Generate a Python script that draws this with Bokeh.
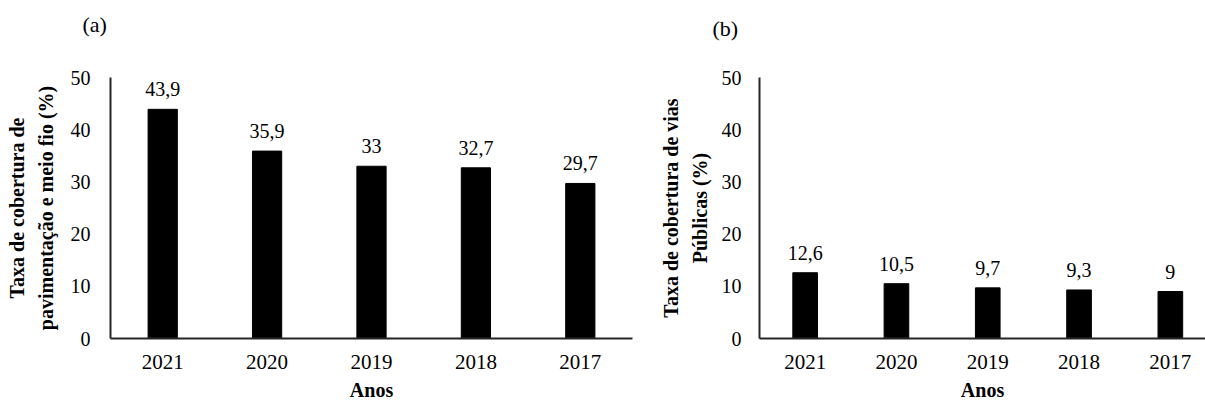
from bokeh.plotting import figure
from bokeh.layouts import row
from bokeh.models import ColumnDataSource, FixedTicker
from bokeh.embed import file_html
from bokeh.resources import INLINE
from bokeh.core.properties import value

# Coverage rates by year
years = ["2021", "2020", "2019", "2018", "2017"]
pavimentacao = [43.9, 35.9, 33.0, 32.7, 29.7]
vias_publicas = [12.6, 10.5, 9.7, 9.3, 9.0]
y_ticks = [0, 10, 20, 30, 40, 50]

FONT = "Liberation Serif"
AXIS_COLOR = "#262626"


def fmt(v):
    # Portuguese decimal comma
    return f"{v:g}".replace(".", ",")


def make_panel(values, ylabel, tag, tag_offset, tag_standoff, tag_line_height,
               width, b_left, b_right, b_top, b_bottom, x_end, bar_width,
               label_standoff, tick_standoff):
    idx = list(range(len(years)))
    src = ColumnDataSource(dict(x=idx, top=values,
                                label=[fmt(v) for v in values]))
    p = figure(width=width, height=403, x_range=(-0.5, x_end), y_range=(0, 50),
               output_backend="svg", toolbar_location=None,
               min_border_left=b_left, min_border_right=b_right,
               min_border_top=b_top, min_border_bottom=b_bottom)
    p.vbar(x="x", top="top", width=bar_width, source=src,
           fill_color="black", line_color="black")
    p.text(x="x", y="top", text="label", source=src,
           text_font=value(FONT), text_font_size="20px",
           text_align="center", text_baseline="alphabetic",
           y_offset=-20, text_color="black")

    # panel tag; the blank second line lifts it well above the plot frame
    p.title.text = tag + "\n "
    p.title.align = "left"
    p.title.offset = tag_offset
    p.title.standoff = tag_standoff
    p.title.text_line_height = tag_line_height
    p.title.text_font = FONT
    p.title.text_font_size = "22px"
    p.title.text_font_style = "normal"
    p.title.text_color = "black"

    p.xgrid.visible = False
    p.ygrid.visible = False
    p.outline_line_color = None
    p.background_fill_color = "white"
    p.border_fill_color = "white"

    for ax in (p.xaxis[0], p.yaxis[0]):
        ax.axis_line_color = AXIS_COLOR
        ax.axis_line_width = 2
        ax.major_tick_out = 0
        ax.major_tick_in = 0
        ax.minor_tick_out = 0
        ax.minor_tick_in = 0
        ax.major_label_text_font = FONT
        ax.major_label_text_font_size = "20px"
        ax.major_label_text_color = "black"
        ax.axis_label_text_font = FONT
        ax.axis_label_text_font_size = "20px"
        ax.axis_label_text_font_style = "bold"
        ax.axis_label_text_color = "black"

    xa = p.xaxis[0]
    xa.ticker = FixedTicker(ticks=idx)
    xa.major_label_overrides = {i: y for i, y in enumerate(years)}
    xa.major_label_text_font_size = "21px"
    xa.major_label_standoff = 16
    xa.axis_label = "Anos"
    xa.axis_label_standoff = 7

    ya = p.yaxis[0]
    ya.ticker = FixedTicker(ticks=y_ticks)
    ya.major_label_standoff = tick_standoff
    ya.axis_label = ylabel
    ya.axis_label_standoff = label_standoff
    ya.axis_label_text_line_height = 1.3
    return p


left = make_panel(pavimentacao,
                  "Taxa de cobertura de\npavimentação e meio fio (%)",
                  "(a)", -28, 16, 1.3,
                  width=640, b_left=110, b_right=8, b_top=77, b_bottom=64,
                  x_end=4.5, bar_width=0.28, label_standoff=11, tick_standoff=20)

right = make_panel(vias_publicas,
                   "Taxa de cobertura de vias\nPúblicas (%)",
                   "(b)", -47, 13, 1.2,
                   width=565, b_left=119, b_right=0, b_top=72, b_bottom=63,
                   x_end=4.385, bar_width=0.27, label_standoff=8, tick_standoff=18)

layout = row(left, right)
open("out.html", "w").write(file_html(layout, INLINE))
